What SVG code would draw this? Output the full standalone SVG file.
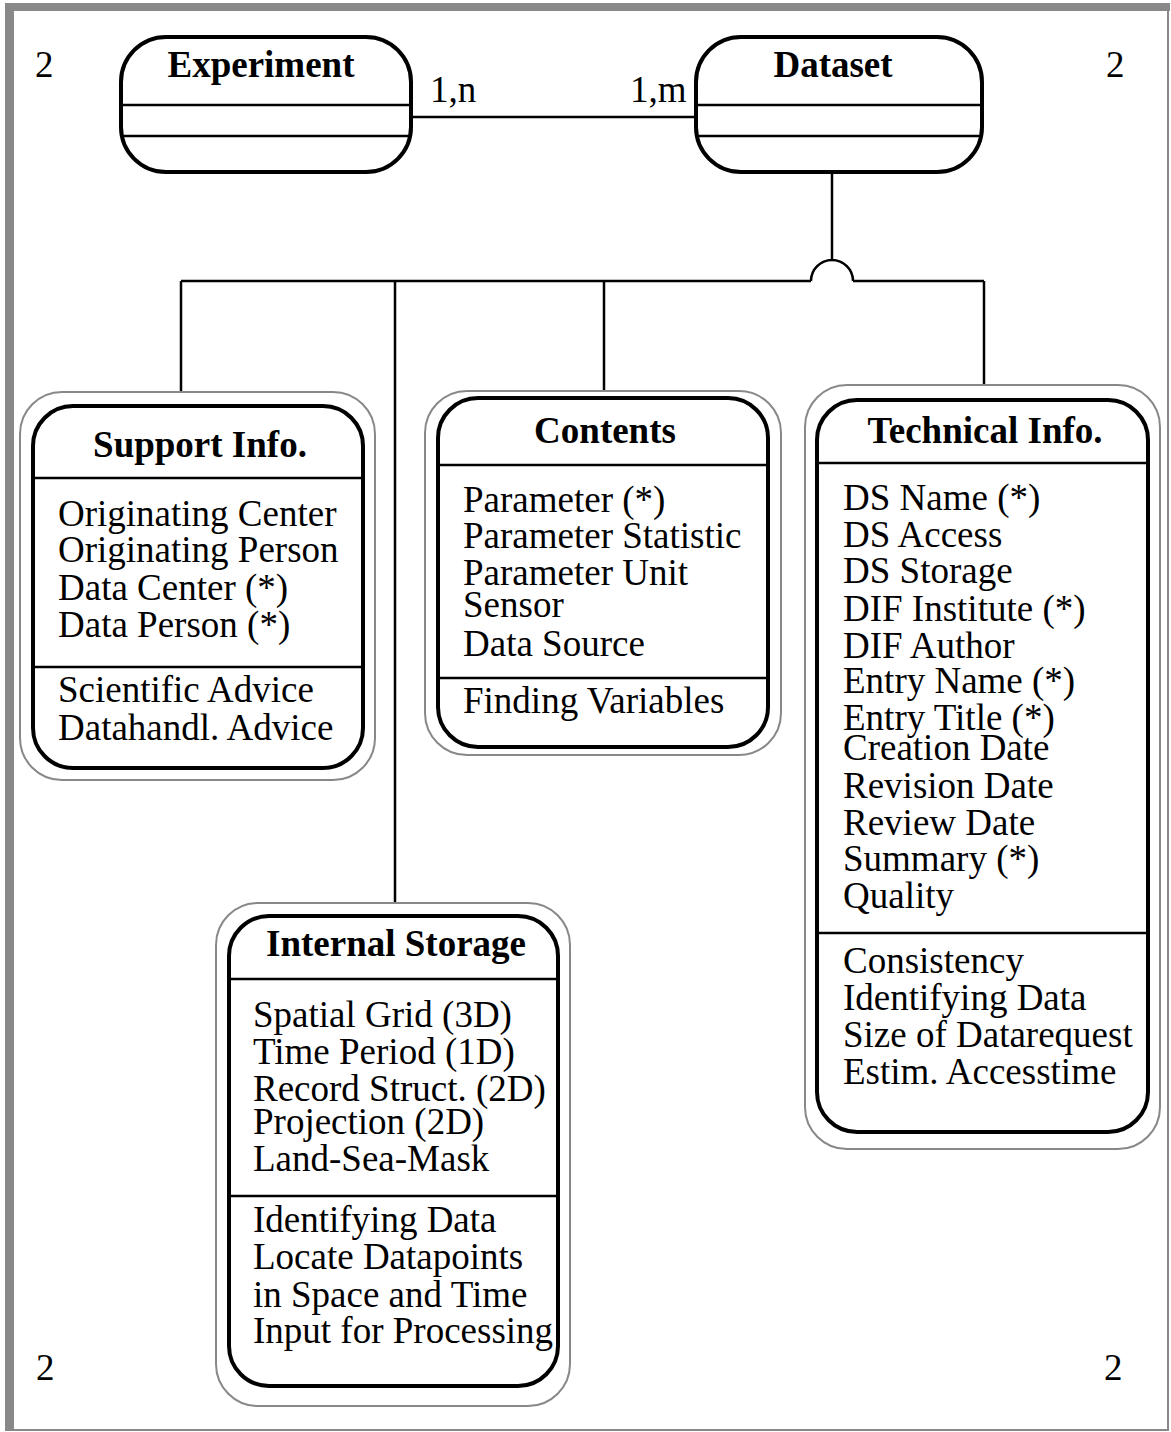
<svg xmlns="http://www.w3.org/2000/svg" width="1171" height="1432" viewBox="0 0 1171 1432">
<style>
text{font-family:"Liberation Serif","Times New Roman",serif;font-size:37px;fill:#000}
.t{font-weight:bold;text-anchor:middle}
.box{fill:#fff;stroke:#000;stroke-width:4}
.outer{fill:#fff;stroke:#888;stroke-width:2}
.sep{stroke:#000;stroke-width:2.5}
.conn{stroke:#000;stroke-width:2.5;fill:none}
</style>
<rect width="1171" height="1432" fill="#fff"/>
<g id="frame" fill="#888">
<rect x="5" y="3" width="1165" height="8"/>
<rect x="5" y="3" width="9" height="1428"/>
<rect x="1167" y="3" width="2" height="1428"/>
<rect x="5" y="1429" width="1164" height="2"/>
</g>
<g id="page-numbers">
<text x="35" y="77">2</text>
<text x="1106" y="77">2</text>
<text x="36" y="1380">2</text>
<text x="1104" y="1380">2</text>
</g>
<g id="connectors">
<line class="conn" x1="411" y1="117" x2="696" y2="117"/>
<line class="conn" x1="832" y1="172" x2="832" y2="260"/>
<path class="conn" d="M811 281 A21 21 0 0 1 853 281"/>
<line class="conn" x1="181" y1="281" x2="811" y2="281"/>
<line class="conn" x1="853" y1="281" x2="984" y2="281"/>
<line class="conn" x1="181" y1="281" x2="181" y2="406"/>
<line class="conn" x1="395" y1="281" x2="395" y2="916"/>
<line class="conn" x1="604" y1="281" x2="604" y2="398"/>
<line class="conn" x1="984" y1="281" x2="984" y2="400"/>
<text x="430" y="102">1,n</text>
<text x="630" y="102">1,m</text>
</g>
<g id="experiment">
<rect class="box" x="121" y="37" width="290" height="135" rx="45"/>
<line class="sep" x1="123" y1="105" x2="409" y2="105"/>
<line class="sep" x1="123" y1="136" x2="409" y2="136"/>
<text class="t" x="261" y="77">Experiment</text>
</g>
<g id="dataset">
<rect class="box" x="696" y="37" width="286" height="135" rx="45"/>
<line class="sep" x1="698" y1="105" x2="980" y2="105"/>
<line class="sep" x1="698" y1="136" x2="980" y2="136"/>
<text class="t" x="833" y="77">Dataset</text>
</g>
<g id="support-info">
<rect class="outer" x="20" y="392" width="355" height="388" rx="42"/>
<rect class="box" x="33" y="406" width="330" height="362" rx="40"/>
<line class="sep" x1="35" y1="478" x2="361" y2="478"/>
<line class="sep" x1="35" y1="667" x2="361" y2="667"/>
<text class="t" x="200" y="457">Support Info.</text>
<text x="58" y="526">Originating Center</text>
<text x="58" y="562">Originating Person</text>
<text x="58" y="600">Data Center (*)</text>
<text x="58" y="637">Data Person (*)</text>
<text x="58" y="702">Scientific Advice</text>
<text x="58" y="740">Datahandl. Advice</text>
</g>
<g id="contents">
<rect class="outer" x="425" y="391" width="356" height="364" rx="42"/>
<rect class="box" x="438" y="398" width="330" height="349" rx="40"/>
<line class="sep" x1="440" y1="465" x2="766" y2="465"/>
<line class="sep" x1="440" y1="678" x2="766" y2="678"/>
<text class="t" x="605" y="443">Contents</text>
<text x="463" y="512">Parameter (*)</text>
<text x="463" y="548">Parameter Statistic</text>
<text x="463" y="585">Parameter Unit</text>
<text x="463" y="617">Sensor</text>
<text x="463" y="656">Data Source</text>
<text x="463" y="713">Finding Variables</text>
</g>
<g id="technical-info">
<rect class="outer" x="805" y="385" width="355" height="764" rx="42"/>
<rect class="box" x="817" y="400" width="331" height="732" rx="40"/>
<line class="sep" x1="819" y1="463" x2="1146" y2="463"/>
<line class="sep" x1="819" y1="933" x2="1146" y2="933"/>
<text class="t" x="985" y="443">Technical Info.</text>
<text x="843" y="510">DS Name (*)</text>
<text x="843" y="547">DS Access</text>
<text x="843" y="583">DS Storage</text>
<text x="843" y="621">DIF Institute (*)</text>
<text x="843" y="658">DIF Author</text>
<text x="843" y="693">Entry Name (*)</text>
<text x="843" y="730">Entry Title (*)</text>
<text x="843" y="760">Creation Date</text>
<text x="843" y="798">Revision Date</text>
<text x="843" y="835">Review Date</text>
<text x="843" y="871">Summary (*)</text>
<text x="843" y="908">Quality</text>
<text x="843" y="973">Consistency</text>
<text x="843" y="1010">Identifying Data</text>
<text x="843" y="1047">Size of Datarequest</text>
<text x="843" y="1084">Estim. Accesstime</text>
</g>
<g id="internal-storage">
<rect class="outer" x="216" y="903" width="354" height="503" rx="42"/>
<rect class="box" x="229" y="916" width="329" height="470" rx="40"/>
<line class="sep" x1="231" y1="979" x2="556" y2="979"/>
<line class="sep" x1="231" y1="1196" x2="556" y2="1196"/>
<text class="t" x="396" y="956">Internal Storage</text>
<text x="253" y="1027">Spatial Grid (3D)</text>
<text x="253" y="1064">Time Period (1D)</text>
<text x="253" y="1101">Record Struct. (2D)</text>
<text x="253" y="1134">Projection (2D)</text>
<text x="253" y="1171">Land-Sea-Mask</text>
<text x="253" y="1232">Identifying Data</text>
<text x="253" y="1269">Locate Datapoints</text>
<text x="253" y="1307">in Space and Time</text>
<text x="253" y="1343">Input for Processing</text>
</g>
</svg>
